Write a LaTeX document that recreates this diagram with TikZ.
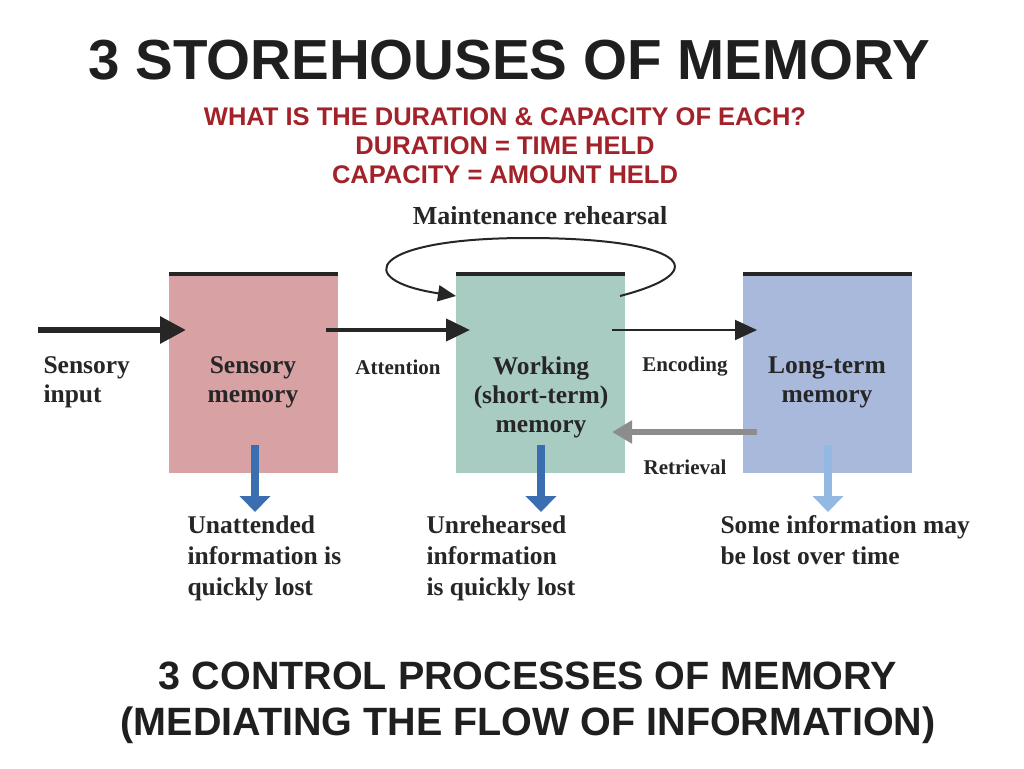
\documentclass[tikz,border=0pt]{standalone}
\usepackage{fontspec}
\setmainfont{Liberation Serif}
\newfontfamily\hd{Liberation Sans}
\usetikzlibrary{arrows.meta}
\definecolor{sens}{HTML}{D8A2A4}
\definecolor{work}{HTML}{A9CCC2}
\definecolor{ltm}{HTML}{A9B9DC}
\definecolor{tred}{HTML}{A3222A}
\definecolor{dblue}{HTML}{3A6EB0}
\definecolor{lblue}{HTML}{93B8E2}
\begin{document}
\begin{tikzpicture}[x=1pt,y=-1pt,
 box/.style={minimum width=169pt,minimum height=199pt,inner sep=0pt,anchor=north west},
 lbl/.style={font=\bfseries\fontsize{25.5}{29}\selectfont,text=black!85,align=center},
 small/.style={font=\bfseries\fontsize{21}{23}\selectfont,text=black!85},
 captxt/.style={font=\bfseries\fontsize{25.5}{31}\selectfont,text=black!85,align=left,anchor=north west},
 title/.style={font=\hd\bfseries,text=black!88},
 red/.style={font=\hd\bfseries\fontsize{25.5}{29}\selectfont,text=tred,align=center},
 down/.style={-{Triangle[length=16pt,width=30pt]},line width=8pt}]
\useasboundingbox (0,0) rectangle (1024,768);
\fill[white] (0,0) rectangle (1024,768);
% titles
\node[title,font=\hd\bfseries\fontsize{56.5}{60}\selectfont] (t1) at (509,60) {3 STOREHOUSES OF MEMORY};
\node[red] (t2) at (505,146) {WHAT IS THE DURATION \& CAPACITY OF EACH?\\DURATION = TIME HELD\\CAPACITY = AMOUNT HELD};
\node[title,font=\hd\bfseries\fontsize{39.5}{46}\selectfont,align=center] (t3) at (528,703) {3 CONTROL PROCESSES OF MEMORY\\(MEDIATING THE FLOW OF INFORMATION)};
% boxes
\node[box,fill=sens] (s) at (169,274) {};
\node[box,fill=work] (w) at (456,274) {};
\node[box,fill=ltm] (l) at (743,274) {};
\foreach \b in {s,w,l}{\draw[line width=4pt,black!85] (\b.north west) -- (\b.north east);}
\node[lbl] at (253,382) {Sensory\\memory};
\node[lbl] at (541,397) {Working\\(short-term)\\memory};
\node[lbl] at (827,382) {Long-term\\memory};
\node[lbl,align=left,anchor=west] (si) at (40,382) {Sensory\\input};
\node[small] (att) at (398,367) {Attention};
\node[small] (enc) at (685,367) {Encoding};
\node[small] (ret) at (685,467) {Retrieval};
\node[font=\bfseries\fontsize{26}{28}\selectfont,text=black!85] (mr) at (540,216) {Maintenance rehearsal};
% arrows
\coordinate (a0) at (38,330);
\draw[-{Triangle[length=26pt,width=26pt]},line width=6pt,black!85] (a0) -- (186,330);
\draw[-{Triangle[length=24pt,width=22pt]},line width=4pt,black!85] (326,330) -- (470,330);
\draw[-{Triangle[length=22pt,width=20pt]},line width=2pt,black!85] (612,330) -- (757,330);
\draw[-{Triangle[length=20pt,width=22pt]},line width=6pt,black!45] (757,432) -- (612,432);
\draw[-{Triangle[length=18pt,width=16pt]},line width=2pt,black!85]
 (620,296) .. controls (720,270) and (680,238) .. (527,238)
 .. controls (370,238) and (350,280) .. (456,296);
\draw[down,dblue] (255,445) -- (255,512);
\draw[down,dblue] (541,445) -- (541,512);
\draw[down,lblue] (828,445) -- (828,512);
% captions
\node[captxt] (c1) at (184,512) {Unattended\\information is\\quickly lost};
\node[captxt] (c2) at (423,512) {Unrehearsed\\information\\is quickly lost};
\node[captxt] (c3) at (717,512) {Some information may\\be lost over time};
\end{tikzpicture}
\end{document}
